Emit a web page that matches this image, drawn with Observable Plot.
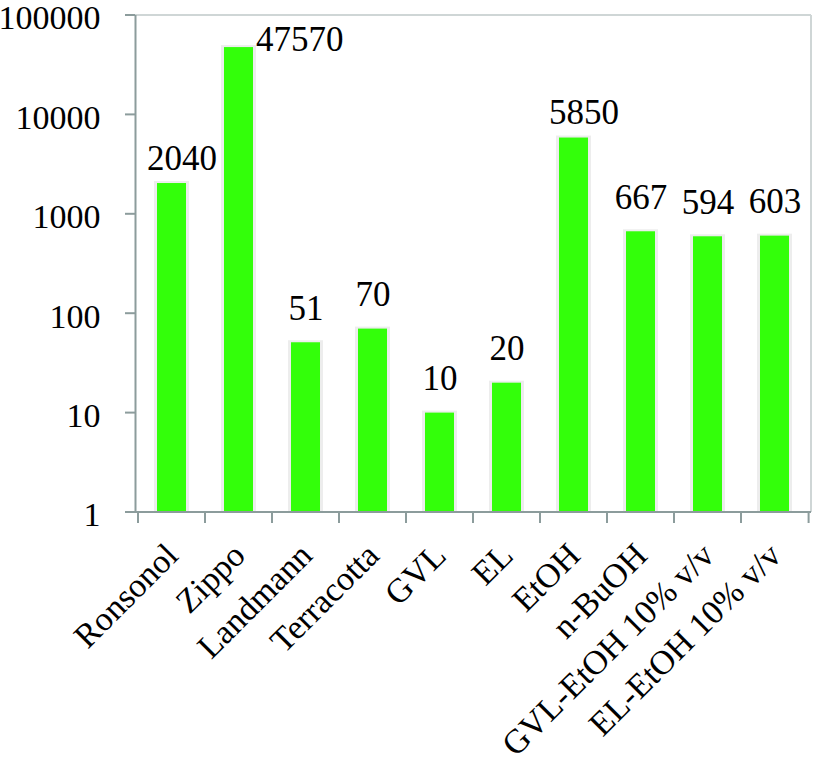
<!DOCTYPE html>
<html>
<head>
<meta charset="utf-8">
<script src="https://cdn.jsdelivr.net/npm/d3@7"></script>
<script src="https://cdn.jsdelivr.net/npm/@observablehq/plot@0.6"></script>
<style>
  html, body { margin: 0; padding: 0; background: #fff; }
</style>
</head>
<body>
<div id="chart"></div>
<script>
const categories = ["Ronsonol", "Zippo", "Landmann", "Terracotta", "GVL", "EL", "EtOH", "n-BuOH", "GVL-EtOH 10% v/v", "EL-EtOH 10% v/v"];
const values = [2040, 47570, 51, 70, 10, 20, 5850, 667, 594, 603];
const yTicks = [1, 10, 100, 1000, 10000, 100000];

const data = categories.map((name, i) => ({name, value: values[i]}));

const W = 814, H = 768;
const mL = 135, mR = 3, mT = 15, mB = 256;
const axisColor = "#8c9c9c";
const borderColor = "#cfd6d6";
const barColor = "#33ff0a";
const font = "'Liberation Serif', 'Times New Roman', serif";

const shifted = new Set(["Ronsonol", "EtOH"]);

function frameAndTicks(index, scales, values, dims) {
  const g = d3.create("svg:g");
  const left = dims.marginLeft, right = dims.width - dims.marginRight;
  const top = dims.marginTop, bottom = dims.height - dims.marginBottom;
  const bw = (right - left) / categories.length;
  // top & right border (light)
  g.append("line").attr("x1", left).attr("x2", right).attr("y1", top).attr("y2", top)
    .attr("stroke", borderColor).attr("stroke-width", 2);
  g.append("line").attr("x1", right).attr("x2", right).attr("y1", top).attr("y2", bottom)
    .attr("stroke", borderColor).attr("stroke-width", 2);
  // left & bottom axis (dark)
  g.append("line").attr("x1", left + 0.5).attr("x2", left + 0.5).attr("y1", top).attr("y2", bottom)
    .attr("stroke", axisColor).attr("stroke-width", 2);
  g.append("line").attr("x1", left).attr("x2", right).attr("y1", bottom).attr("y2", bottom)
    .attr("stroke", axisColor).attr("stroke-width", 2);
  // y ticks (left of axis)
  for (const t of yTicks) {
    const y = scales.y(t);
    g.append("line").attr("x1", left - 10).attr("x2", left).attr("y1", y).attr("y2", y)
      .attr("stroke", axisColor).attr("stroke-width", 2);
  }
  // category boundary ticks
  const xs = categories.map(c => scales.x(c));
  xs.push(scales.x(categories[categories.length - 1]) + bw);
  for (const x of xs) {
    g.append("line").attr("x1", x).attr("x2", x).attr("y1", bottom).attr("y2", bottom + 11)
      .attr("stroke", axisColor).attr("stroke-width", 2);
  }
  return g.node();
}

const plot = Plot.plot({
  width: W,
  height: H,
  marginLeft: mL,
  marginRight: mR,
  marginTop: mT,
  marginBottom: mB,
  style: {fontFamily: font, fontSize: "35px", color: "black", background: "white"},
  x: {domain: categories, padding: 0, axis: null},
  y: {type: "log", domain: [1, 100000], axis: null},
  marks: [
    // bar shadow
    Plot.barY(data, {x: "name", y1: 1, y2: "value", fill: "#ededed", insetLeft: 16, insetRight: 16, insetTop: -2}),
    Plot.barY(data, {x: "name", y1: 1, y2: "value", fill: barColor, insetLeft: 19, insetRight: 19}),
    frameAndTicks,
    // y tick labels
    Plot.text(yTicks, {
      y: d => d, frameAnchor: "left", text: d => String(d), dx: -35, dy: 3,
      textAnchor: "end", lineAnchor: "middle", fill: "black", fontSize: 34
    }),
    // value labels
    Plot.text(data.filter(d => d.name !== "Zippo" && !shifted.has(d.name)), {
      x: "name", y: "value", text: d => String(d.value), dy: -23, lineAnchor: "bottom", fill: "black", fontSize: 35
    }),
    Plot.text(data.filter(d => shifted.has(d.name)), {
      x: "name", y: "value", text: d => String(d.value), dx: 10, dy: -14, lineAnchor: "bottom", fill: "black", fontSize: 35
    }),
    Plot.text(data.filter(d => d.name === "Zippo"), {
      x: "name", y: "value", text: d => String(d.value), dx: 17, dy: 3, textAnchor: "start", lineAnchor: "bottom", fill: "black", fontSize: 35
    }),
    // category labels
    Plot.text(categories, {
      x: d => d, frameAnchor: "bottom", text: d => d, rotate: -45, textAnchor: "end", lineAnchor: "bottom",
      dx: 8, dy: 45, fill: "black", fontSize: 34
    })
  ]
});

document.getElementById("chart").appendChild(plot);
</script>
</body>
</html>
